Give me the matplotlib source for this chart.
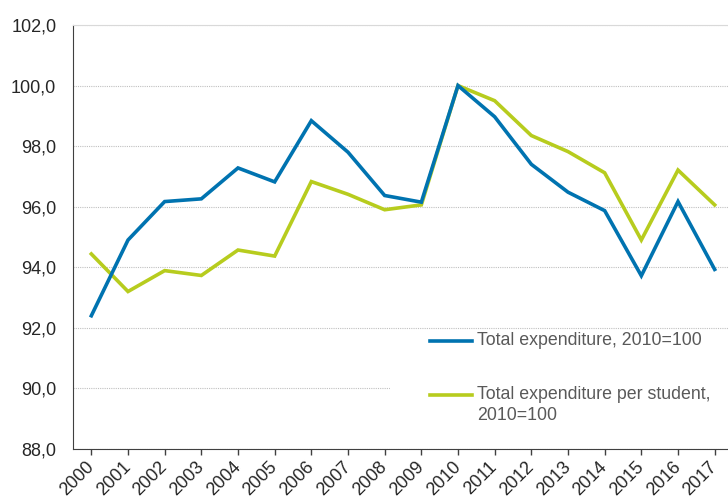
import matplotlib
matplotlib.use("Agg")
import matplotlib.pyplot as plt
from matplotlib.patches import Rectangle
from matplotlib.lines import Line2D

years = [str(y) for y in range(2000, 2018)]
total_exp = [92.4, 94.9, 96.17, 96.26, 97.28, 96.82, 98.84, 97.8, 96.37, 96.15,
             100.0, 98.97, 97.4, 96.48, 95.87, 93.72, 96.17, 93.93]
per_student = [94.44, 93.2, 93.89, 93.73, 94.57, 94.37, 96.83, 96.41, 95.9, 96.06,
               100.0, 99.5, 98.35, 97.82, 97.12, 94.9, 97.21, 96.06]
yticks = [88, 90, 92, 94, 96, 98, 100, 102]
labels = ["Total expenditure, 2010=100", "Total expenditure per student,\n2010=100"]
colors = ['#0073b0', '#b7cc1e']

plt.rcParams['font.family'] = ['Liberation Sans', 'DejaVu Sans']

W, H = 728, 503
fig = plt.figure(figsize=(W/100, H/100), dpi=100)
ax = fig.add_axes([73/W, 1-449/H, 660/W, (449-25)/H])

x = list(range(len(years)))
ax.plot(x, total_exp, color=colors[0], lw=2.6, solid_joinstyle='miter', zorder=4)
ax.plot(x, per_student, color=colors[1], lw=2.6, solid_joinstyle='miter', zorder=3)

ax.set_xlim(-0.5, 17.5)
ax.set_ylim(88, 102)
ax.set_yticks(yticks)
ax.set_yticklabels([f"{v:.1f}".replace('.', ',') for v in yticks])
ax.set_xticks(x)
ax.set_xticklabels(years, rotation=45, ha='right', va='center', rotation_mode='anchor')

ax.grid(axis='y', color='#c0c0c0', linestyle=(0, (1, 1)), lw=0.8, zorder=0)
ax.set_axisbelow(True)
ax.spines['right'].set_visible(False)
ax.spines['top'].set_color('#d9d9d9')
ax.spines['left'].set_color('#404040')
ax.spines['bottom'].set_color('#404040')
ax.tick_params(axis='y', length=0, pad=12, labelsize=13, colors='#262626')
ax.tick_params(axis='x', length=4, width=1, color='#404040', pad=7, labelsize=13, labelcolor='#262626')

# white background behind legend
ax.add_patch(Rectangle((390/W, 1-445/H), 0.6, (445-333)/H, transform=fig.transFigure,
                       facecolor='white', edgecolor='none', zorder=1))

# manual legend
leg_y = [341, 395]
for c, lab, yy in zip(colors, labels, leg_y):
    fig.add_artist(Line2D([430/W, 472/W], [1-yy/H, 1-yy/H], color=c, lw=2.6,
                          transform=fig.transFigure))
    fig.text(477/W, 1-(yy-9)/H, lab, fontsize=12.8, color='#595959', va='top',
             ha='left', linespacing=1.3)

fig.savefig('out.png', dpi=100)
